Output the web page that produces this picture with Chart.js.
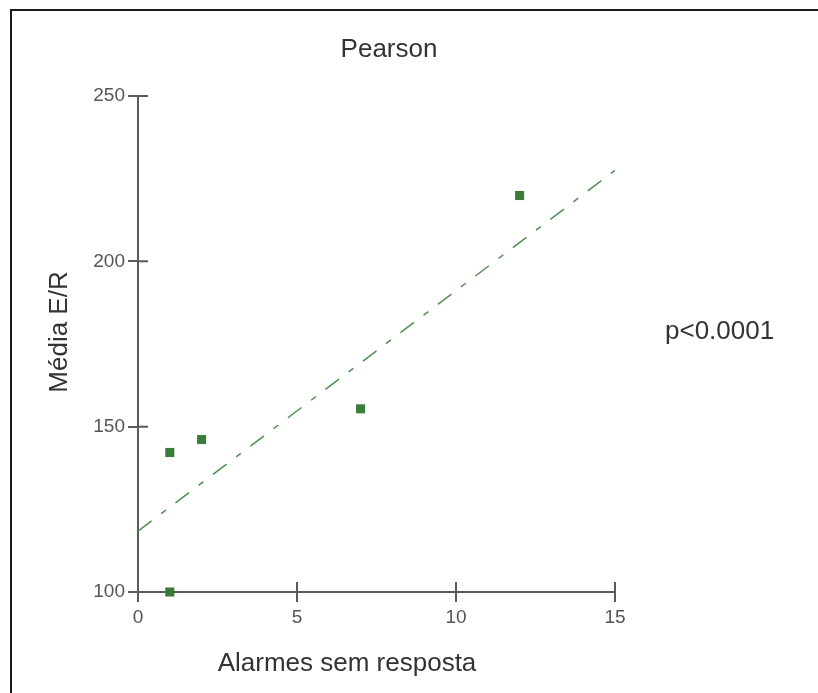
<!DOCTYPE html>
<html>
<head>
<meta charset="utf-8">
<script src="https://cdn.jsdelivr.net/npm/chart.js@4.4.0/dist/chart.umd.min.js"></script>
<style>
    body { margin: 0; background: #fff; overflow: hidden; }
    #wrap { position: relative; width: 818px; height: 693px; }
    #frame {
        position: absolute; left: 10px; top: 9px; width: 900px; height: 800px;
        border-top: 2px solid #1a1a1a; border-left: 2px solid #1a1a1a;
        pointer-events: none;
    }
    canvas { position: absolute; left: 0; top: 0; }
</style>
</head>
<body>
<div id="wrap">
    <canvas id="pearsonChart" width="818" height="693"></canvas>
    <div id="frame"></div>
</div>
<script>
// scatter data
const alarmes = [1, 2, 7, 12, 1];
const mediaER = [142.2, 146.1, 155.4, 219.9, 100];

// fitted line end points
const trendX = [0, 15];
const trendY = [118.4, 227.5];

const chartTitle = 'Pearson';
const xTitle = 'Alarmes sem resposta';
const yTitle = 'Média E/R';
const pText = 'p<0.0001';

const axisColor = '#5a5a5a';
const textColor = '#333333';
const font = '"Liberation Sans", Arial, sans-serif';

// ticks cross the axis, chart.js only draws the outer half
const innerTicks = {
    id: 'innerTicks',
    afterDatasetsDraw(chart) {
        const ctx = chart.ctx;
        const area = chart.chartArea;
        const xs = chart.scales.x, ys = chart.scales.y;
        ctx.save();
        ctx.strokeStyle = axisColor;
        ctx.lineWidth = 2;
        ctx.beginPath();
        xs.ticks.forEach(t => {
            const px = xs.getPixelForValue(t.value);
            ctx.moveTo(px, area.bottom);
            ctx.lineTo(px, area.bottom - 10);
        });
        ys.ticks.forEach(t => {
            const py = ys.getPixelForValue(t.value);
            ctx.moveTo(area.left, py);
            ctx.lineTo(area.left + 10, py);
        });
        ctx.stroke();
        ctx.restore();
    }
};

// titles and p value
const labelsPlugin = {
    id: 'labelsPlugin',
    afterDraw(chart) {
        const ctx = chart.ctx;
        ctx.save();
        ctx.fillStyle = textColor;
        ctx.font = '26px ' + font;
        ctx.textBaseline = 'alphabetic';

        ctx.textAlign = 'center';
        ctx.fillText(chartTitle, 389, 57);
        ctx.fillText(xTitle, 347, 671);

        ctx.textAlign = 'left';
        ctx.fillText(pText, 665, 339);

        ctx.translate(67, 332);
        ctx.rotate(-Math.PI / 2);
        ctx.textAlign = 'center';
        ctx.fillText(yTitle, 0, 0);
        ctx.restore();
    }
};

const ctx = document.getElementById('pearsonChart').getContext('2d');

new Chart(ctx, {
    type: 'scatter',
    data: {
        datasets: [
            {
                label: 'Média E/R',
                data: alarmes.map((a, i) => ({ x: a, y: mediaER[i] })),
                pointStyle: 'rect',
                pointRadius: 6.4,
                pointHoverRadius: 6.4,
                backgroundColor: '#3a7d3a',
                borderWidth: 0,
                clip: false,
                order: 1
            },
            {
                label: 'Regressão',
                type: 'line',
                data: trendX.map((x, i) => ({ x: x, y: trendY[i] })),
                showLine: true,
                borderColor: '#4f8f4f',
                borderWidth: 1.5,
                borderDash: [17, 12, 6, 12],
                pointRadius: 0,
                fill: false,
                order: 2
            }
        ]
    },
    options: {
        responsive: false,
        animation: false,
        layout: {
            padding: { left: 0, right: 203, top: 96, bottom: 0 }
        },
        plugins: {
            legend: { display: false },
            title: { display: false },
            tooltip: { enabled: false }
        },
        scales: {
            x: {
                type: 'linear',
                min: 0,
                max: 15,
                ticks: {
                    stepSize: 5,
                    color: '#555',
                    padding: 4,
                    font: { family: font, size: 19 }
                },
                grid: {
                    drawOnChartArea: false,
                    drawTicks: true,
                    tickLength: 10,
                    color: axisColor,
                    lineWidth: 2
                },
                border: { color: axisColor, width: 2 },
                afterFit: axis => { axis.height = 101; }
            },
            y: {
                type: 'linear',
                min: 100,
                max: 250,
                ticks: {
                    stepSize: 50,
                    color: '#555',
                    padding: 3,
                    font: { family: font, size: 19 }
                },
                grid: {
                    drawOnChartArea: false,
                    drawTicks: true,
                    tickLength: 10,
                    color: axisColor,
                    lineWidth: 2
                },
                border: { color: axisColor, width: 2 },
                afterFit: axis => { axis.width = 138; }
            }
        }
    },
    plugins: [innerTicks, labelsPlugin]
});
</script>
</body>
</html>
